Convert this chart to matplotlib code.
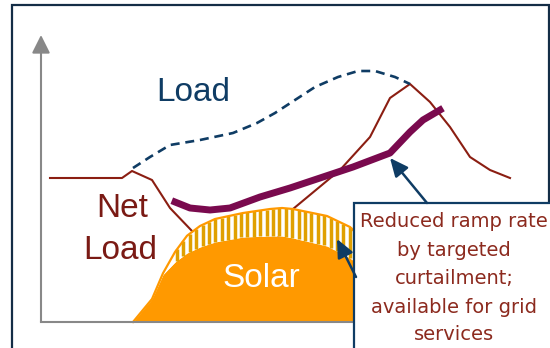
import matplotlib
matplotlib.use("Agg")
import matplotlib.pyplot as plt
from matplotlib.patches import Rectangle
import numpy as np

# hour of day vs. demand (% of peak load)
hours_net = [0, 3.6, 4.1, 5.1, 6.0, 7.1, 8.25, 9.75, 11.0, 12.15, 14.5, 16.0,
             17.0, 18.0, 19.0, 20.0, 21.0, 22.0, 23.0]
net_load = [57.6, 57.6, 60.4, 56.8, 45.6, 36.4, 28.8, 25.6, 28.0, 45.2, 60.8, 74.0,
            89.6, 95.2, 88.0, 78.0, 66.0, 60.8, 57.6]

hours_load = [4.15, 5.0, 6.0, 7.5, 9.15, 10.35, 11.25, 12.25, 13.25, 14.4, 15.4,
              16.25, 17.25, 18.0]
load = [61.6, 66.0, 70.8, 72.8, 75.6, 79.6, 83.6, 88.8, 94.0, 98.0, 100.4,
        100.4, 98.0, 95.2]

hours_solar = [4.15, 5.1, 5.65, 6.25, 6.85, 7.5, 8.25, 9.65, 11.0, 11.6, 12.15,
               13.85, 15.0, 15.75, 17.0, 18.0, 18.75]
solar_full = [0, 9.2, 19.5, 28.0, 34.5, 38.4, 41.2, 43.6, 45.2, 45.6, 45.2,
              42.4, 38.0, 32.0, 22.0, 10.0, 0]
solar_curtailed = [0, 9.2, 19.0, 24.0, 27.6, 30.0, 32.0, 34.0, 34.4, 34.4, 33.6,
                   30.4, 25.6, 21.0, 14.0, 6.0, 0]

hours_ramp = [6.25, 7.0, 8.0, 9.0, 10.5, 12.0, 13.5, 15.15, 17.0, 18.0, 18.65, 19.5]
ramp_load = [48.0, 45.6, 44.8, 45.6, 50.0, 53.6, 57.6, 62.0, 67.6, 76.0, 80.8, 84.8]

box_lines = ["Reduced ramp rate", "by targeted", "curtailment;",
             "available for grid", "services"]

NAVY = "#0f3c64"
RED = "#8b1e12"
ORANGE = "#ff9900"
GOLD = "#e0a000"
PURPLE = "#7a0a4e"
GRAY = "#888888"

fig = plt.figure(figsize=(5.5, 3.48), dpi=100)
ax = fig.add_axes([0, 0, 1, 1])
ax.set_xlim(-2.5, 25)
ax.set_ylim(-10.4, 128.8)
ax.axis("off")

# outer frame (bottom edge runs off the figure)
ax.add_patch(Rectangle((-1.9, -20), 26.85, 146.8, fill=False, ec="#142d46", lw=1.6, zorder=1))

# net load sits behind the solar block
ax.plot(hours_net, net_load, color=RED, lw=1.5, zorder=2)

# solar: solid part, then striped band for the curtailed share
hs = np.array(hours_solar)
ax.fill_between(hs, 0, solar_curtailed, color=ORANGE, lw=0, zorder=3)
ax.fill_between(hs, solar_curtailed, solar_full, color="white", lw=0, zorder=3)
stripes = np.arange(6.35, 16.0, 0.32)
ax.vlines(stripes, np.interp(stripes, hs, solar_curtailed), np.interp(stripes, hs, solar_full),
          color=GOLD, lw=2.5, zorder=4)
ax.plot(hs, solar_full, color=ORANGE, lw=1.6, zorder=4)

ax.plot(hours_load, load, color=NAVY, lw=1.9, dashes=(3.4, 2.2), zorder=5)
ax.plot(hours_ramp, ramp_load, color=PURPLE, lw=5, solid_capstyle="projecting", zorder=6)

# axes arrows
ax.plot([-0.45, 20], [0, 0], color=GRAY, lw=1.5, zorder=7)
ax.annotate("", xy=(-0.45, 114.8), xytext=(-0.45, 0),
            arrowprops=dict(arrowstyle="-|>,head_length=1.1,head_width=0.55", color=GRAY,
                            lw=1.5, mutation_scale=10, shrinkA=0, shrinkB=0), zorder=7)

ax.text(7.15, 88.4, "Load", color=NAVY, fontsize=24, family="Liberation Sans",
        ha="center", va="baseline", zorder=8)
ax.text(3.6, 42.0, "Net", color="#7a1a14", fontsize=24, family="Liberation Sans",
        ha="center", va="baseline", zorder=8)
ax.text(3.5, 25.2, "Load", color="#7a1a14", fontsize=24, family="Liberation Sans",
        ha="center", va="baseline", zorder=8)
ax.text(10.55, 14.0, "Solar", color="white", fontsize=24, family="Liberation Sans",
        ha="center", va="baseline", zorder=8)

# callout box
ax.add_patch(Rectangle((15.2, -20), 11.3, 67.6, fc="white", ec=NAVY, lw=1.6, zorder=9))
for line, y in zip(box_lines, [38.0, 26.4, 15.0, 3.6, -7.2]):
    ax.text(20.2, y, line, color="#8c2a1e", fontsize=14, family="DejaVu Sans",
            ha="center", va="baseline", zorder=10)

arrow = dict(arrowstyle="-|>,head_length=1.1,head_width=0.5", color=NAVY, lw=1.8,
             mutation_scale=10, shrinkA=0, shrinkB=0)
ax.annotate("", xy=(17.0, 65.6), xytext=(18.85, 47.6), arrowprops=arrow, zorder=10)
ax.annotate("", xy=(14.35, 33.2), xytext=(15.3, 18.0), arrowprops=arrow, zorder=10)

fig.savefig("out.png", dpi=100)
